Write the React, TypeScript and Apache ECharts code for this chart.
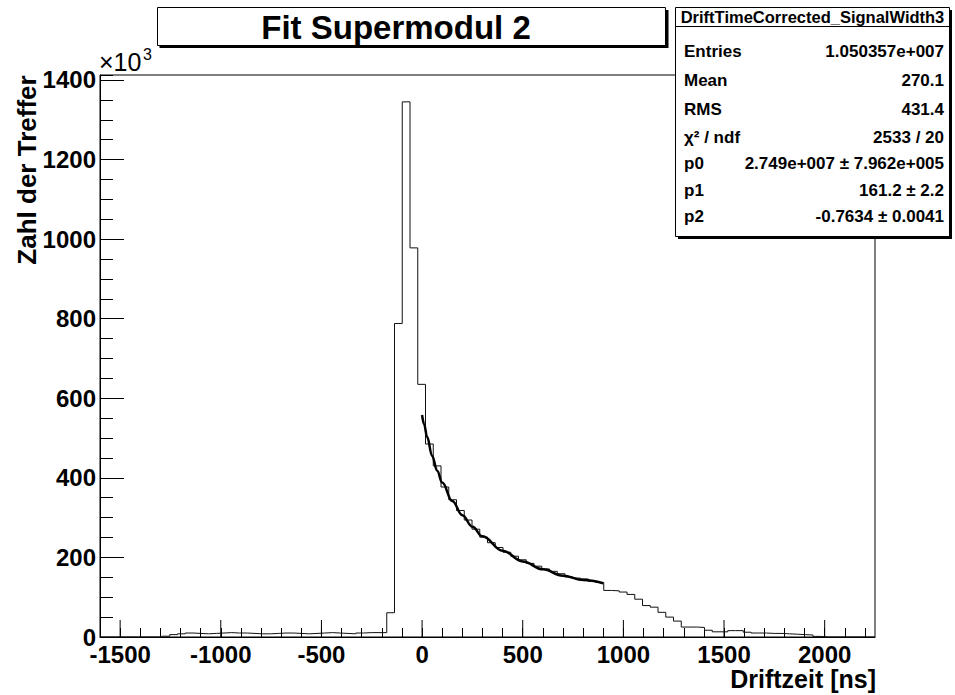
import React, { useEffect, useRef } from 'react';
import * as echarts from 'echarts';

// Histogram binning (ns) and bin contents (in units of 10^3 hits)
const binLow = -1600;
const binWidth = 38.5;
const counts = [
  0, 0, 0, 0, 0, 0, 0, 0, 2, 6,
  8, 10, 9, 8, 9, 10, 11, 10, 10, 9,
  8, 8, 9, 10, 10, 9, 8, 9, 10, 11,
  10, 9, 8, 10, 11, 11, 11, 61, 788, 1345,
  978, 635, 485, 430, 377, 345, 318, 294, 271, 251,
  237, 225, 213, 203, 194, 185, 178, 171, 165, 159,
  151, 148, 146, 140, 137, 117, 116, 113, 107, 95,
  79, 75, 62, 50, 40, 25, 25, 24, 17, 13,
  13, 16, 16, 12, 10, 10, 9, 9, 8, 7,
  6, 5, 1.5, 0, 0, 0, 0, 0, 0, 0,
];

// Fit curve
const fitX = [0, 10, 25, 50, 75, 100, 150, 200, 250, 300, 400, 500, 600, 700, 800, 900];
const fitY = [558, 535, 503, 455, 418, 388, 342, 306, 277, 253, 217, 190, 170, 154, 143, 135];

const xMajorTicks = [-1500, -1000, -500, 0, 500, 1000, 1500, 2000];

const titleText = 'Fit Supermodul 2';
const xTitle = 'Driftzeit [ns]';
const yTitle = 'Zahl der Treffer';
const statsTitle = 'DriftTimeCorrected_SignalWidth3';
const statsLabels = ['Entries', 'Mean', 'RMS', 'χ² / ndf', 'p0', 'p1', 'p2'];
const statsValues = [
  '1.050357e+007',
  '270.1',
  '431.4',
  '2533 / 20',
  '2.749e+007 ± 7.962e+005',
  '161.2 ± 2.2',
  '-0.7634 ± 0.0041',
];
const statsRowY = [51.5, 80.5, 109.5, 137.5, 163.5, 190.5, 216.5];

const FONT = "'Liberation Sans', Arial, Helvetica, sans-serif";

export default function App() {
  const ref = useRef<HTMLDivElement>(null);

  useEffect(() => {
    if (!ref.current) return;
    const chart = echarts.init(ref.current, undefined, { renderer: 'svg' });

    const histData: number[][] = counts.map((c, i) => [binLow + i * binWidth, c]);
    histData.push([binLow + counts.length * binWidth, counts[counts.length - 1]]);
    const fitData = fitX.map((x, i) => [x, fitY[i]]);

    const statsGraphics: any[] = [];
    statsLabels.forEach((lab, i) => {
      statsGraphics.push({
        type: 'text',
        z: 101,
        style: {
          x: 684,
          y: statsRowY[i],
          text: lab,
          font: `bold 17px ${FONT}`,
          fill: '#000',
          textAlign: 'left',
          textVerticalAlign: 'middle',
        },
      });
      statsGraphics.push({
        type: 'text',
        z: 101,
        style: {
          x: 944,
          y: statsRowY[i],
          text: statsValues[i],
          font: `bold 17px ${FONT}`,
          fill: '#000',
          textAlign: 'right',
          textVerticalAlign: 'middle',
        },
      });
    });

    const option: any = {
      animation: false,
      backgroundColor: '#fff',
      grid: {
        left: 100,
        right: 80,
        top: 75,
        bottom: 58,
        show: true,
        borderColor: '#000',
        borderWidth: 1,
        backgroundColor: 'transparent',
      },
      xAxis: [
        {
          type: 'value',
          min: -1600,
          max: 2250,
          interval: 100,
          axisLine: { show: true, onZero: false, lineStyle: { color: '#000', width: 1 } },
          axisTick: { show: true, inside: true, length: 9, lineStyle: { color: '#000', width: 1 } },
          axisLabel: {
            show: true,
            margin: 5,
            showMaxLabel: false,
            color: '#000',
            fontFamily: FONT,
            fontWeight: 'bold',
            fontSize: 24,
            formatter: (v: number) =>
              v % 500 === 0 && v >= -1500 && v <= 2000 ? String(v) : '',
          },
          splitLine: { show: false },
        },
      ],
      yAxis: [
        {
          type: 'value',
          min: 0,
          max: 1412.5,
          interval: 200,
          position: 'left',
          offset: 0,
          axisLine: { show: true, onZero: false, lineStyle: { color: '#000', width: 1 } },
          axisTick: { show: true, inside: true, length: 24, lineStyle: { color: '#000', width: 1 } },
          axisLabel: {
            show: true,
            margin: 4,
            showMaxLabel: false,
            color: '#000',
            fontFamily: FONT,
            fontWeight: 'bold',
            fontSize: 24,
            formatter: (v: number) => String(v),
          },
          splitLine: { show: false },
        },
        {
          type: 'value',
          min: 0,
          max: 1412.5,
          interval: 50,
          position: 'left',
          offset: 0,
          axisLine: { show: false, onZero: false },
          axisTick: { show: true, inside: true, length: 13, lineStyle: { color: '#000', width: 1 } },
          axisLabel: { show: false },
          splitLine: { show: false },
        },
      ],
      series: [
        {
          type: 'line',
          name: 'hist',
          data: histData,
          step: 'end',
          showSymbol: false,
          symbol: 'none',
          lineStyle: { color: '#111', width: 1 },
          z: 3,
        },
        {
          type: 'line',
          name: 'fit',
          data: fitData,
          smooth: 0.4,
          smoothMonotone: 'x',
          showSymbol: false,
          symbol: 'none',
          lineStyle: { color: '#000', width: 2.5 },
          z: 4,
        },
        {
          type: 'custom',
          name: 'majorTicks',
          data: xMajorTicks.map((v) => [v, 0]),
          encode: { x: 0, y: 1 },
          clip: false,
          z: 5,
          renderItem: (params: any, api: any) => {
            const p = api.coord([api.value(0), 0]);
            return {
              type: 'line',
              shape: { x1: p[0], y1: p[1], x2: p[0], y2: p[1] - 17 },
              style: { stroke: '#000', lineWidth: 1 },
            };
          },
        },
      ],
      graphic: [
        // title box
        { type: 'rect', z: 100, shape: { x: 159.5, y: 10, width: 509, height: 38 }, style: { fill: '#000' } },
        {
          type: 'rect',
          z: 100,
          shape: { x: 157.5, y: 7.5, width: 508, height: 38 },
          style: { fill: '#fff', stroke: '#000', lineWidth: 1 },
        },
        {
          type: 'text',
          z: 101,
          style: {
            x: 396,
            y: 27,
            text: titleText,
            font: `bold 33px ${FONT}`,
            fill: '#000',
            textAlign: 'center',
            textVerticalAlign: 'middle',
          },
        },
        // x10^3
        {
          type: 'text',
          z: 101,
          style: { x: 99, y: 74, text: '×10', font: `25px ${FONT}`, fill: '#000', textAlign: 'left', textVerticalAlign: 'bottom' },
        },
        {
          type: 'text',
          z: 101,
          style: { x: 143, y: 62, text: '3', font: `16px ${FONT}`, fill: '#000', textAlign: 'left', textVerticalAlign: 'bottom' },
        },
        // y title
        {
          type: 'text',
          z: 101,
          x: 27,
          y: 170,
          rotation: Math.PI / 2,
          style: {
            x: 0,
            y: 0,
            text: yTitle,
            font: `bold 26px ${FONT}`,
            fill: '#000',
            textAlign: 'center',
            textVerticalAlign: 'middle',
          },
        },
        // x title
        {
          type: 'text',
          z: 101,
          style: {
            x: 876,
            y: 679,
            text: xTitle,
            font: `bold 25px ${FONT}`,
            fill: '#000',
            textAlign: 'right',
            textVerticalAlign: 'middle',
          },
        },
        // stats box
        { type: 'rect', z: 100, shape: { x: 678, y: 10, width: 274, height: 229 }, style: { fill: '#000' } },
        {
          type: 'rect',
          z: 100,
          shape: { x: 675.5, y: 7.5, width: 274, height: 229 },
          style: { fill: '#fff', stroke: '#000', lineWidth: 1 },
        },
        {
          type: 'line',
          z: 101,
          shape: { x1: 675.5, y1: 26.5, x2: 949.5, y2: 26.5 },
          style: { stroke: '#000', lineWidth: 1 },
        },
        {
          type: 'text',
          z: 101,
          style: {
            x: 812.5,
            y: 17,
            text: statsTitle,
            font: `bold 16.5px ${FONT}`,
            fill: '#000',
            textAlign: 'center',
            textVerticalAlign: 'middle',
          },
        },
        ...statsGraphics,
      ],
    };

    chart.setOption(option);
    return () => chart.dispose();
  }, []);

  return (
    <div
      ref={ref}
      style={{ position: 'fixed', left: 0, top: 0, width: 955, height: 695 }}
    />
  );
}
